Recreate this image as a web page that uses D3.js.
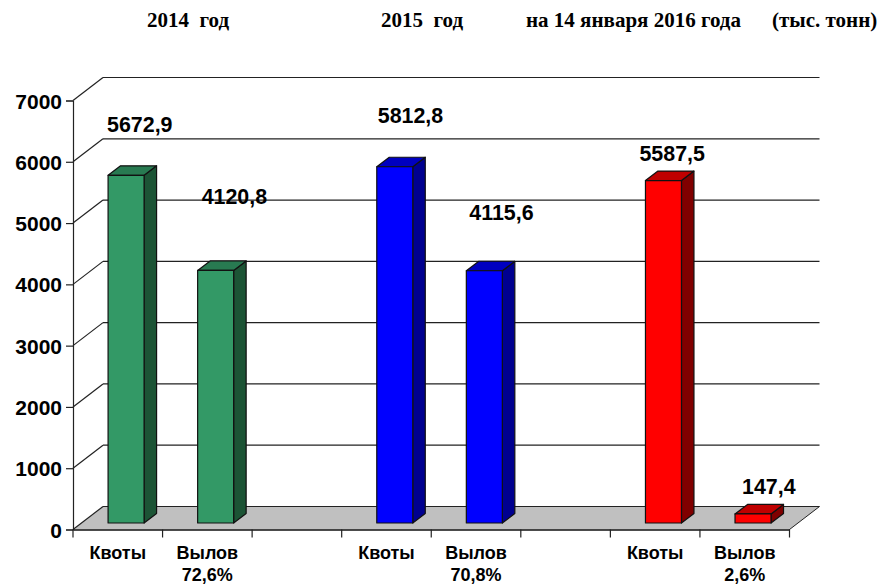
<!DOCTYPE html>
<html>
<head>
<meta charset="utf-8">
<script src="https://cdn.jsdelivr.net/npm/d3@7"></script>
<style>
	html, body { margin: 0; padding: 0; background: #fff; }
	svg { display: block; }
	text { fill: #000; font-family: "Liberation Sans", Arial, sans-serif; font-weight: bold; }
</style>
</head>
<body>
<script>
var slots = ["a1", "a2", "a3", "b1", "b2", "b3", "c1", "c2"];
var barSlots = ["a1", "a2", "b1", "b2", "c1", "c2"];
var barValues = [5672.9, 4120.8, 5812.8, 4115.6, 5587.5, 147.4];
var barLabels = ["5672,9", "4120,8", "5812,8", "4115,6", "5587,5", "147,4"];
var barFront = ["#339966", "#339966", "#0000ff", "#0000ff", "#ff0000", "#ff0000"];
var barTop = ["#287a51", "#287a51", "#0000c0", "#0000c0", "#bf0000", "#bf0000"];
var barSide = ["#1c5435", "#1c5435", "#000090", "#000090", "#800000", "#800000"];
var catLabels = ["Квоты", "Вылов", "", "Квоты", "Вылов", "", "Квоты", "Вылов"];
var catSubLabels = ["", "72,6%", "", "", "70,8%", "", "", "2,6%"];
var yTicks = [0, 1000, 2000, 3000, 4000, 5000, 6000, 7000];
var titles = ["2014  год", "2015  год", "на 14 января 2016 года", "(тыс. тонн)"];

// layout, by hand from the picture
var titleX = [147, 381, 526, 772];
var labelDx = [-1, 4, 1, 3, -6, 7];   // value label offset from the bar's left edge
var labelDy = [-43, -66, -44, -51, -20, -20]; // value label baseline, from top of front face
var w = 880, h = 587;
var left = 73, right = 789.5, top0 = 100.5, bottom = 529.5;
var depthX = 30, depthY = -23;   // floor depth
var barW = 36, barDx = 12.5, barDy = -9.5; // bar depth
var barLift = 6.5, barShift = 8.3;

var svg = d3.select("body").append("svg")
	.attr("width", w)
	.attr("height", h);

var x = d3.scaleBand().domain(slots).range([left, right]);
var y = d3.scaleLinear().domain([0, 7000]).range([bottom, top0]);

svg.selectAll("text.title")
	.data(titles)
	.enter()
	.append("text")
	.attr("class", "title")
	.attr("x", function (d, i) { return titleX[i]; })
	.attr("y", 27)
	.style("font-family", "'Liberation Serif', serif")
	.style("font-size", "21px")
	.style("white-space", "pre")
	.text(function (d) { return d; });

// floor
svg.append("polygon")
	.attr("points", [
		[left, bottom],
		[left + depthX, bottom + depthY],
		[right + depthX, bottom + depthY],
		[right, bottom]
	].join(" "))
	.attr("fill", "#c0c0c0")
	.attr("stroke", "none");

// back wall grid, with the diagonals on the left wall
var grid = svg.selectAll("g.grid")
	.data(yTicks)
	.enter()
	.append("g")
	.attr("class", "grid")
	.attr("stroke", "#222")
	.attr("stroke-width", 1.2);

grid.append("line")
	.attr("x1", left)
	.attr("y1", function (d) { return y(d); })
	.attr("x2", left + depthX)
	.attr("y2", function (d) { return y(d) + depthY; });

grid.append("line")
	.attr("x1", left + depthX)
	.attr("y1", function (d) { return y(d) + depthY; })
	.attr("x2", right + depthX)
	.attr("y2", function (d) { return y(d) + depthY; });

svg.append("line")
	.attr("x1", right)
	.attr("y1", bottom)
	.attr("x2", right + depthX)
	.attr("y2", bottom + depthY)
	.attr("stroke", "#222")
	.attr("stroke-width", 1);

// axes
var yAxis = svg.append("g")
	.attr("transform", "translate(" + left + ",0)")
	.call(d3.axisLeft(y).tickValues(yTicks).tickSize(7).tickPadding(4).tickFormat(d3.format("d")));
yAxis.selectAll("text").style("font-size", "21px").attr("dy", "0.36em");
yAxis.selectAll("path, line").attr("stroke", "#222").attr("stroke-width", 1.2);

var xAxis = svg.append("g")
	.attr("transform", "translate(0," + bottom + ")")
	.call(d3.axisBottom(x).tickSize(0).tickPadding(0).tickFormat(function (d, i) { return catLabels[i]; }));
xAxis.select("path").attr("stroke", "#111").attr("stroke-width", 1.6);
xAxis.selectAll("text")
	.style("font-size", "18px")
	.attr("y", 29)
	.attr("dy", 0);
xAxis.selectAll("g.tick").append("text")
	.attr("y", 51.5)
	.style("font-size", "18px")
	.attr("text-anchor", "middle")
	.text(function (d, i) { return catSubLabels[i]; });

// tick marks sit on the slot edges
xAxis.selectAll("line.edge")
	.data(slots.concat("end"))
	.enter()
	.append("line")
	.attr("class", "edge")
	.attr("x1", function (d, i) { return left + i * x.step(); })
	.attr("x2", function (d, i) { return left + i * x.step(); })
	.attr("y1", 0)
	.attr("y2", 8)
	.attr("stroke", "#222")
	.attr("stroke-width", 1.2);

// bars
var barX = function (i) {
	return x(barSlots[i]) + x.bandwidth() / 2 + barShift - barW / 2;
};
var barY = function (d) {
	return y(d) - barLift;
};

var bars = svg.selectAll("g.bar")
	.data(barValues)
	.enter()
	.append("g")
	.attr("class", "bar")
	.attr("stroke", "#111")
	.attr("stroke-width", 1.2)
	.attr("stroke-linejoin", "round");

bars.append("polygon")
	.attr("fill", function (d, i) { return barSide[i]; })
	.attr("points", function (d, i) {
		var x1 = barX(i) + barW;
		return [
			[x1, barY(d)],
			[x1 + barDx, barY(d) + barDy],
			[x1 + barDx, barY(0) + barDy],
			[x1, barY(0)]
		].join(" ");
	});

bars.append("polygon")
	.attr("fill", function (d, i) { return barTop[i]; })
	.attr("points", function (d, i) {
		var x0 = barX(i);
		return [
			[x0, barY(d)],
			[x0 + barDx, barY(d) + barDy],
			[x0 + barW + barDx, barY(d) + barDy],
			[x0 + barW, barY(d)]
		].join(" ");
	});

bars.append("rect")
	.attr("fill", function (d, i) { return barFront[i]; })
	.attr("x", function (d, i) { return barX(i); })
	.attr("y", function (d) { return barY(d); })
	.attr("width", barW)
	.attr("height", function (d) { return barY(0) - barY(d); });

svg.selectAll("text.value")
	.data(barValues)
	.enter()
	.append("text")
	.attr("class", "value")
	.attr("x", function (d, i) { return barX(i) + labelDx[i]; })
	.attr("y", function (d, i) { return barY(d) + labelDy[i]; })
	.style("font-size", "21.4px")
	.text(function (d, i) { return barLabels[i]; });
</script>
</body>
</html>
